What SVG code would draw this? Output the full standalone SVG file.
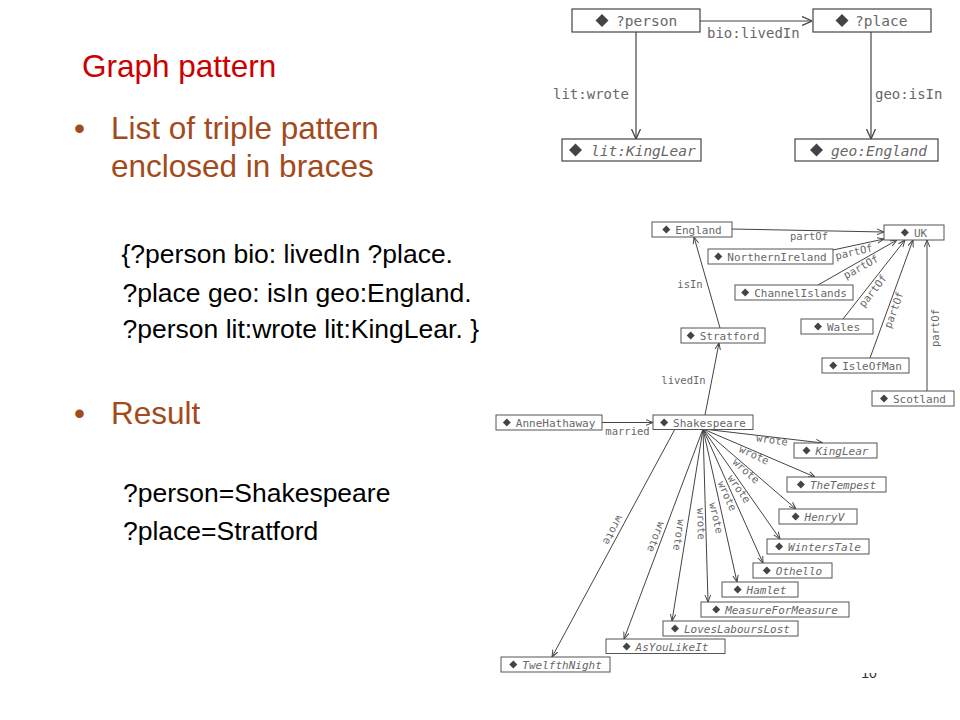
<svg xmlns="http://www.w3.org/2000/svg" width="960" height="720" viewBox="0 0 960 720">
<defs>
<style>
.t{font-family:"Liberation Sans",Arial,sans-serif}
.title{font-size:31.5px;fill:#CC0000}
.bul{font-size:31.5px;fill:#A34A1C}
.code{font-size:26.5px;fill:#000}
.box{fill:#fff;stroke:#444;stroke-width:1.2}
.bbox{fill:#fff;stroke:#555;stroke-width:1}
.m{font-family:"DejaVu Sans Mono","Liberation Mono",monospace;fill:#686868}
.big{font-size:14.5px}
.lab{font-size:14px}
.sm{font-size:11px}
.sl{font-size:10.5px}
.it{font-style:italic}
.e{fill:none;stroke:#444;stroke-width:1.2}
.e2{fill:none;stroke:#444;stroke-width:1}
.dm{fill:#444}
</style>
<marker id="A" viewBox="0 0 10 10" refX="10" refY="5" markerWidth="10" markerHeight="10" markerUnits="userSpaceOnUse" orient="auto"><path d="M0,0.5 L10,5 L0,9.5" fill="none" stroke="#444" stroke-width="1.3"/></marker>
<marker id="a" viewBox="0 0 10 10" refX="10" refY="5" markerWidth="7" markerHeight="7" markerUnits="userSpaceOnUse" orient="auto"><path d="M0,1 L10,5 L0,9" fill="none" stroke="#444" stroke-width="1.4"/></marker>
<path id="D" d="M-6.5,0L0,-6.5L6.5,0L0,6.5Z"/>
<path id="d" d="M-4,0L0,-4L4,0L0,4Z"/>
</defs>
<rect width="960" height="720" fill="#fff"/>

<g id="page-number"><text class="t" x="869" y="678" font-size="14" fill="#333" text-anchor="middle">10</text><rect x="850" y="650" width="40" height="23" fill="#fff"/></g>

<g id="slide-text" class="t">
<text class="title" x="82" y="77">Graph pattern</text>
<text class="bul" x="74" y="139">•</text>
<text class="bul" x="111" y="139">List of triple pattern</text>
<text class="bul" x="111" y="177">enclosed in braces</text>
<text class="code" x="121.5" y="263">{?person bio: livedIn ?place.</text>
<text class="code" x="122.5" y="302">?place geo: isIn geo:England.</text>
<text class="code" x="122.5" y="338">?person lit:wrote lit:KingLear. }</text>
<text class="bul" x="74" y="424">•</text>
<text class="bul" x="111" y="424">Result</text>
<text class="code" x="123" y="502">?person=Shakespeare</text>
<text class="code" x="123" y="540">?place=Stratford</text>
</g>

<g id="connectors">
<!-- pattern graph -->
<path class="e" d="M700,21 L812,21" marker-end="url(#A)"/>
<path class="e" d="M636,32 L636,139" marker-end="url(#A)"/>
<path class="e" d="M871,32 L871,139" marker-end="url(#A)"/>
<text class="m lab" x="707" y="38">bio:livedIn</text>
<text class="m lab" x="553" y="99">lit:wrote</text>
<text class="m lab" x="875" y="99">geo:isIn</text>
<!-- data graph -->
<path class="e2" d="M732,229 L884,232" marker-end="url(#a)"/>
<path class="e2" d="M833,250 L884,239" marker-end="url(#a)"/>
<path class="e2" d="M818,285 L897,240" marker-end="url(#a)"/>
<path class="e2" d="M843,319 L905,240" marker-end="url(#a)"/>
<path class="e2" d="M870,358 L913,240" marker-end="url(#a)"/>
<path class="e2" d="M927,391 L927,240" marker-end="url(#a)"/>
<path class="e2" d="M720,328 L694,237" marker-end="url(#a)"/>
<path class="e2" d="M705,415 L719,343" marker-end="url(#a)"/>
<path class="e2" d="M602,422.5 L653,422.5" marker-end="url(#a)"/>
<path class="e2" d="M703,429 L823,443" marker-end="url(#a)"/>
<path class="e2" d="M703,429 L815,477" marker-end="url(#a)"/>
<path class="e2" d="M703,429 L796,509" marker-end="url(#a)"/>
<path class="e2" d="M703,429 L780,539" marker-end="url(#a)"/>
<path class="e2" d="M703,429 L763,563" marker-end="url(#a)"/>
<path class="e2" d="M703,429 L737,582" marker-end="url(#a)"/>
<path class="e2" d="M703,429 L708,602" marker-end="url(#a)"/>
<path class="e2" d="M703,429 L672,621" marker-end="url(#a)"/>
<path class="e2" d="M703,429 L624,639" marker-end="url(#a)"/>
<path class="e2" d="M675,429 L552,657" marker-end="url(#a)"/>
<g class="m sl" text-anchor="middle">
<text x="809" y="240">partOf</text>
<text transform="translate(854,252) rotate(-13)" y="3.5">partOf</text>
<text transform="translate(861,267) rotate(-29)" y="3.5">partOf</text>
<text transform="translate(873,291) rotate(-52)" y="3.5">partOf</text>
<text transform="translate(894,310) rotate(-70)" y="3.5">partOf</text>
<text transform="translate(935,328) rotate(-90)" y="3.5">partOf</text>
<text x="690" y="288">isIn</text>
<text x="683.5" y="384">livedIn</text>
<text x="627.5" y="435">married</text>
<text transform="translate(772,440) rotate(8)" y="3.5">wrote</text>
<text transform="translate(754,455) rotate(25)" y="3.5">wrote</text>
<text transform="translate(746,471) rotate(42)" y="3.5">wrote</text>
<text transform="translate(739,489) rotate(55)" y="3.5">wrote</text>
<text transform="translate(727,496) rotate(66)" y="3.5">wrote</text>
<text transform="translate(716,518) rotate(77)" y="3.5">wrote</text>
<text transform="translate(701,524) rotate(88)" y="3.5">wrote</text>
<text transform="translate(679,535) rotate(99)" y="3.5">wrote</text>
<text transform="translate(656,537) rotate(111)" y="3.5">wrote</text>
<text transform="translate(613,530) rotate(118)" y="3.5">wrote</text>
</g>
</g>

<!-- pattern graph nodes -->
<g id="n-person"><rect class="box" x="572" y="9" width="128" height="23"/><use href="#D" class="dm" x="602" y="20.5"/><text class="m big" x="616" y="26">?person</text></g>
<g id="n-place"><rect class="box" x="813" y="9" width="118" height="23"/><use href="#D" class="dm" x="842" y="20.5"/><text class="m big" x="855" y="26">?place</text></g>
<g id="n-kinglear-p"><rect class="box" x="562" y="139" width="139" height="22"/><use href="#D" class="dm" x="575.5" y="150"/><text class="m big it" x="591" y="155.5">lit:KingLear</text></g>
<g id="n-england-p"><rect class="box" x="795" y="139" width="143" height="22"/><use href="#D" class="dm" x="816.5" y="150"/><text class="m big it" x="831" y="155.5">geo:England</text></g>

<!-- data graph nodes -->
<g id="n-england"><rect class="bbox" x="652" y="222" width="80" height="15"/><use href="#d" class="dm" x="666.3" y="229.5"/><text class="m sm" x="675.3" y="233.5">England</text></g>
<g id="n-uk"><rect class="bbox" x="884" y="225" width="60" height="15"/><use href="#d" class="dm" x="904.9" y="232.5"/><text class="m sm" x="913.9" y="236.5">UK</text></g>
<g id="n-ni"><rect class="bbox" x="708" y="249" width="125" height="15"/><use href="#d" class="dm" x="718.3" y="256.5"/><text class="m sm" x="727.3" y="260.5">NorthernIreland</text></g>
<g id="n-ci"><rect class="bbox" x="735" y="285" width="118" height="15"/><use href="#d" class="dm" x="745.2" y="292.5"/><text class="m sm" x="754.2" y="296.5">ChannelIslands</text></g>
<g id="n-wales"><rect class="bbox" x="801" y="319" width="72" height="15"/><use href="#d" class="dm" x="818" y="326.5"/><text class="m sm" x="827" y="330.5">Wales</text></g>
<g id="n-iom"><rect class="bbox" x="822" y="358" width="87" height="15"/><use href="#d" class="dm" x="833.2" y="365.5"/><text class="m sm" x="842.2" y="369.5">IsleOfMan</text></g>
<g id="n-scotland"><rect class="bbox" x="872" y="391" width="82" height="15"/><use href="#d" class="dm" x="884" y="398.5"/><text class="m sm" x="893" y="402.5">Scotland</text></g>
<g id="n-stratford"><rect class="bbox" x="681" y="328" width="84" height="15"/><use href="#d" class="dm" x="690.7" y="335.5"/><text class="m sm" x="699.7" y="339.5">Stratford</text></g>
<g id="n-anne"><rect class="bbox" x="496" y="415" width="106" height="15"/><use href="#d" class="dm" x="506.8" y="422.5"/><text class="m sm" x="515.8" y="426.5">AnneHathaway</text></g>
<g id="n-shakespeare"><rect class="bbox" x="653" y="415" width="100" height="14.5"/><use href="#d" class="dm" x="664.1" y="422.5"/><text class="m sm" x="673.1" y="426.5">Shakespeare</text></g>
<g id="n-kinglear"><rect class="bbox" x="794" y="443" width="83" height="15"/><use href="#d" class="dm" x="806.5" y="450.5"/><text class="m sm it" x="815.5" y="454.5">KingLear</text></g>
<g id="n-tempest"><rect class="bbox" x="787" y="477" width="99" height="15"/><use href="#d" class="dm" x="800.9" y="484.5"/><text class="m sm it" x="809.9" y="488.5">TheTempest</text></g>
<g id="n-henryv"><rect class="bbox" x="779" y="509" width="78" height="15"/><use href="#d" class="dm" x="795.6" y="516.5"/><text class="m sm it" x="804.6" y="520.5">HenryV</text></g>
<g id="n-winterstale"><rect class="bbox" x="767" y="539" width="102" height="15"/><use href="#d" class="dm" x="779.1" y="546.5"/><text class="m sm it" x="788.1" y="550.5">WintersTale</text></g>
<g id="n-othello"><rect class="bbox" x="753" y="563" width="79" height="15"/><use href="#d" class="dm" x="766.8" y="570.5"/><text class="m sm it" x="775.8" y="574.5">Othello</text></g>
<g id="n-hamlet"><rect class="bbox" x="722" y="582" width="76" height="15"/><use href="#d" class="dm" x="737.6" y="589.5"/><text class="m sm it" x="746.6" y="593.5">Hamlet</text></g>
<g id="n-mfm"><rect class="bbox" x="701" y="602" width="148" height="15"/><use href="#d" class="dm" x="716.2" y="609.5"/><text class="m sm it" x="725.2" y="613.5">MeasureForMeasure</text></g>
<g id="n-lll"><rect class="bbox" x="663" y="621" width="135" height="15"/><use href="#d" class="dm" x="675" y="628.5"/><text class="m sm it" x="684" y="632.5">LovesLaboursLost</text></g>
<g id="n-ayli"><rect class="bbox" x="606" y="639" width="119" height="14.5"/><use href="#d" class="dm" x="626.6" y="646.5"/><text class="m sm it" x="635.6" y="650.5">AsYouLikeIt</text></g>
<g id="n-twelfth"><rect class="bbox" x="501" y="657" width="109" height="15"/><use href="#d" class="dm" x="513.3" y="664.5"/><text class="m sm it" x="522.3" y="668.5">TwelfthNight</text></g>
</svg>
